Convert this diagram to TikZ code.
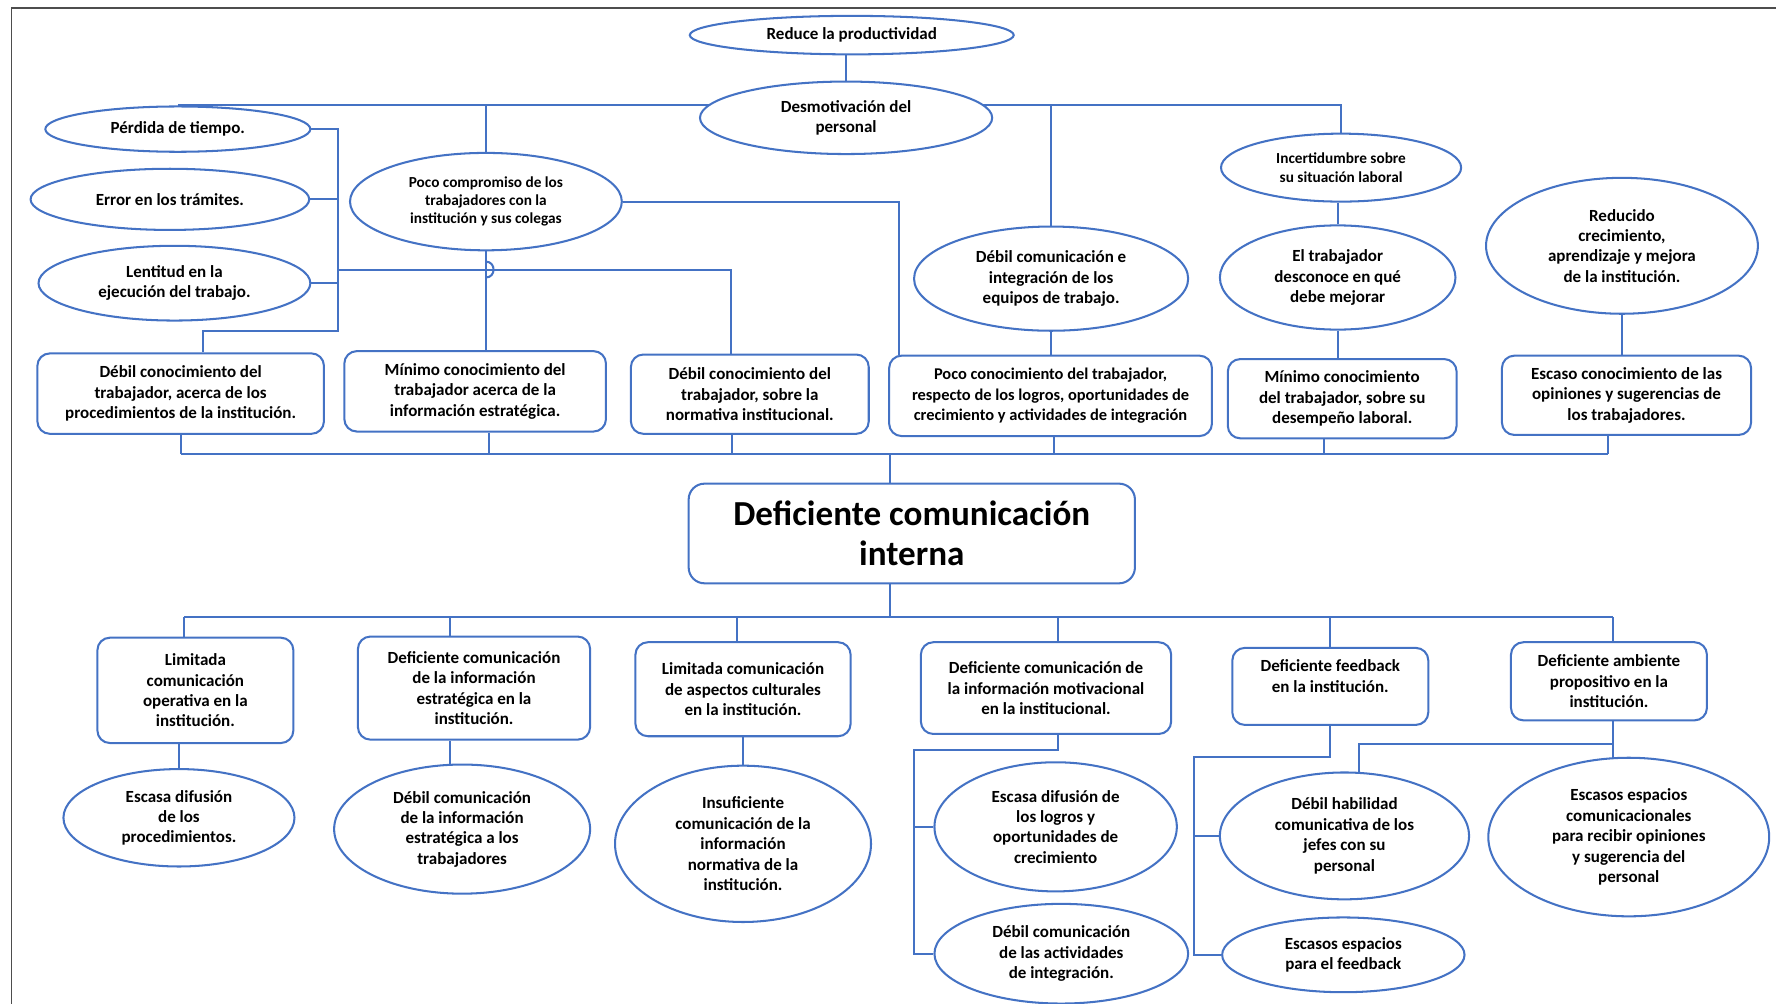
\documentclass[tikz,border=0pt]{standalone}
\usepackage{fontspec}
\setmainfont{Carlito}
\usetikzlibrary{shapes.geometric,backgrounds}
\definecolor{lb}{HTML}{4472C4}
\definecolor{fr}{HTML}{4D4D4D}
\begin{document}
\begin{tikzpicture}[x=1pt,y=-1pt,
  ln/.style={draw=lb,line width=1.8pt},
  ell/.style={ellipse,draw=lb,line width=1.8pt,fill=white,inner sep=0pt,align=center,font=\bfseries\fontsize{15}{18}\selectfont},
  box/.style={rectangle,rounded corners=11pt,draw=lb,line width=1.8pt,fill=white,inner sep=0pt,align=center,font=\bfseries\fontsize{15}{18}\selectfont},
  smf/.style={font=\bfseries\fontsize{13.5}{16}\selectfont},
  bigf/.style={font=\bfseries\fontsize{31}{35}\selectfont}
]
\useasboundingbox (0,0) rectangle (1568,886);
\draw[fr,line width=1.2pt] (1568,7) -- (10,7) -- (10,886);

% ---- upper ellipses
\node[ell,minimum width=286pt,minimum height=34pt] (red) at (752,31) {Reduce la productividad};
\node[ell,minimum width=258pt,minimum height=64pt] (desm) at (747,104) {Desmotivación del\\personal};
\node[ell,minimum width=234pt,minimum height=40pt] (perd) at (157,114) {Pérdida de tiempo.};
\node[ell,minimum width=246pt,minimum height=54pt] (err) at (150,176) {Error en los trámites.};
\node[ell,minimum width=240pt,minimum height=66pt] (lent) at (154,250) {Lentitud en la\\ejecución del trabajo.};
\node[ell,smf,minimum width=240pt,minimum height=86pt] (poco) at (429,178) {Poco compromiso de los\\trabajadores con la\\institución y sus colegas};
\node[ell,minimum width=242pt,minimum height=92pt] (dce) at (928,246) {Débil comunicación e\\integración de los\\equipos de trabajo.};
\node[ell,smf,minimum width=212pt,minimum height=60pt] (inc) at (1184,148) {Incertidumbre sobre\\su situación laboral};
\node[ell,minimum width=208pt,minimum height=92pt] (elt) at (1181,245) {El trabajador\\desconoce en qué\\debe mejorar};
\node[ell,minimum width=240pt,minimum height=120pt] (redu) at (1432,217) {Reducido\\crecimiento,\\aprendizaje y mejora\\de la institución.};

% ---- upper boxes
\node[box,minimum width=253pt,minimum height=71pt] (r1) at (159.5,347.5) {Débil conocimiento del\\trabajador, acerca de los\\procedimientos de la institución.};
\node[box,minimum width=231pt,minimum height=71pt] (r2) at (419.5,345.5) {Mínimo conocimiento del\\trabajador acerca de la\\información estratégica.};
\node[box,minimum width=210pt,minimum height=70pt] (r3) at (662,348) {Débil conocimiento del\\trabajador, sobre la\\normativa institucional.};
\node[box,font=\bfseries\fontsize{14.5}{18}\selectfont,minimum width=285pt,minimum height=71pt] (r4) at (927.5,349.5) {Poco conocimiento del trabajador,\\respecto de los logros, oportunidades de\\crecimiento y actividades de integración};
\node[box,minimum width=202pt,minimum height=70pt] (r5) at (1185,352) {Mínimo conocimiento\\del trabajador, sobre su\\desempeño laboral.};
\node[box,minimum width=220pt,minimum height=70pt] (r6) at (1436,349) {Escaso conocimiento de las\\opiniones y sugerencias de\\los trabajadores.};

% ---- central
\node[box,bigf,rounded corners=14pt,minimum width=394pt,minimum height=88pt] (main) at (805,471) {Deficiente comunicación\\interna};

% ---- lower boxes
\node[box,minimum width=173pt,minimum height=93pt] (b1) at (172.5,609.5) {Limitada\\comunicación\\operativa en la\\institución.};
\node[box,minimum width=205pt,minimum height=91pt] (b2) at (418.5,607.5) {Deficiente comunicación\\de la información\\estratégica en la\\institución.};
\node[box,minimum width=190pt,minimum height=83pt] (b3) at (656,608.5) {Limitada comunicación\\de aspectos culturales\\en la institución.};
\node[box,minimum width=221pt,minimum height=81pt] (b4) at (923.5,607.5) {Deficiente comunicación de\\la información motivacional\\en la institucional.};
\node[box,minimum width=173pt,minimum height=68pt] (b5) at (1174.5,606) {Deficiente feedback\\en la institución.\\ \mbox{}};
\node[box,minimum width=173pt,minimum height=69pt] (b6) at (1420.5,601.5) {Deficiente ambiente\\propositivo en la\\institución.};

% ---- lower ellipses
\node[ell,minimum width=204pt,minimum height=86pt] (e1) at (158,722) {Escasa difusión\\de los\\procedimientos.};
\node[ell,minimum width=226pt,minimum height=114pt] (e2) at (408,732) {Débil comunicación\\de la información\\estratégica a los\\trabajadores};
\node[ell,minimum width=226pt,minimum height=138pt] (e3) at (656,745) {Insuficiente\\comunicación de la\\información\\normativa de la\\institución.};
\node[ell,minimum width=214pt,minimum height=114pt] (e4) at (932,730) {Escasa difusión de\\los logros y\\oportunidades de\\crecimiento};
\node[ell,minimum width=224pt,minimum height=88pt] (e5) at (937,842) {Débil comunicación\\de las actividades\\de integración.};
\node[ell,minimum width=220pt,minimum height=112pt] (e6) at (1187,738) {Débil habilidad\\comunicativa de los\\jefes con su\\personal};
\node[ell,minimum width=214pt,minimum height=66pt] (e7) at (1186,843) {Escasos espacios\\para el feedback};
\node[ell,minimum width=248pt,minimum height=140pt] (e8) at (1438,739) {Escasos espacios\\comunicacionales\\para recibir opiniones\\y sugerencia del\\personal};

\coordinate (k) at (298,114);
\coordinate (kb) at (298,292);
\coordinate (kh) at (298,238);
\coordinate (busU) at (0,401);
\coordinate (busL) at (0,545);
\coordinate (q4) at (807,662);
\coordinate (q5) at (1054,668);
\coordinate (q6) at (1200,657);

\begin{scope}[on background layer]
% top part
\draw[ln] (desm.north) -- (desm.north |- red.south);
\draw[ln] (perd.north) -| (inc.north);
\draw[ln] (poco.north) -- (poco.north |- perd.north);
\draw[ln] (dce.north) -- (dce.north |- perd.north);
\draw[ln] (elt.north) -- (elt.north |- inc.south);
\draw[ln] (elt.south) -- (elt.south |- r5.north);
\draw[ln] (dce.south) -- (dce.south |- r4.north);
\draw[ln] (redu.south) -- (redu.south |- r6.north);
\draw[ln] (poco.east) -| ([xshift=10pt]r4.north west);
% left bracket
\draw[ln] (perd.east) -- (k) -- (kb) -| ([xshift=20pt]r1.north);
\draw[ln] (err.east) -- (err.east -| k);
\draw[ln] (lent.east) -- (lent.east -| k);
\draw[ln] (kh) -| ([xshift=-17pt]r3.north);
\draw[ln] (poco.south) -- (poco.south |- r2.north);
\coordinate (hop) at (poco.south |- kh);
\draw[ln] ([yshift=7pt]hop) .. controls +(9pt,0) and +(9pt,0) .. ([yshift=-7pt]hop);
% upper bus
\draw[ln] (r1.south |- busU) -- ([xshift=-16pt]r6.south |- busU);
\draw[ln] (r1.south) -- (r1.south |- busU);
\draw[ln] ([xshift=12pt]r2.south) -- ([xshift=12pt]r2.south |- busU);
\draw[ln] ([xshift=-16pt]r3.south) -- ([xshift=-16pt]r3.south |- busU);
\draw[ln] ([xshift=3pt]r4.south) -- ([xshift=3pt]r4.south |- busU);
\draw[ln] ([xshift=-16pt]r5.south) -- ([xshift=-16pt]r5.south |- busU);
\draw[ln] ([xshift=-16pt]r6.south) -- ([xshift=-16pt]r6.south |- busU);
\draw[ln] ([xshift=-19pt]main.north) -- ([xshift=-19pt]main.north |- busU);
% lower bus
\draw[ln] ([xshift=-19pt]main.south) -- ([xshift=-19pt]main.south |- busL);
\draw[ln] ([xshift=-10pt]b1.north |- busL) -- ([xshift=3.5pt]b6.north |- busL);
\draw[ln] ([xshift=-10pt]b1.north) -- ([xshift=-10pt]b1.north |- busL);
\draw[ln] ([xshift=-21pt]b2.north) -- ([xshift=-21pt]b2.north |- busL);
\draw[ln] ([xshift=-5pt]b3.north) -- ([xshift=-5pt]b3.north |- busL);
\draw[ln] ([xshift=11pt]b4.north) -- ([xshift=11pt]b4.north |- busL);
\draw[ln] (b5.north) -- (b5.north |- busL);
\draw[ln] ([xshift=3.5pt]b6.north) -- ([xshift=3.5pt]b6.north |- busL);
% lower links
\draw[ln] (e1.north) -- (e1.north |- b1.south);
\draw[ln] ([xshift=-21pt]b2.south) -- ([xshift=-21pt]b2.south |- e2.center);
\draw[ln] (e3.north) -- (e3.north |- b3.south);
\draw[ln] ([xshift=11pt]b4.south) |- (q4) |- (e5.west);
\draw[ln] (q4 |- e4.west) -- (e4.west);
\draw[ln] (b5.south) |- (q5) |- (e7.west);
\draw[ln] (q5 |- e6.west) -- (e6.west);
\draw[ln] ([xshift=3.5pt]b6.south) -- ([xshift=3.5pt]b6.south |- e8.center);
\draw[ln] ([xshift=3.5pt]b6.south |- q6) -- (q6) -- (q6 |- e6.center);
\end{scope}
\end{tikzpicture}
\end{document}
